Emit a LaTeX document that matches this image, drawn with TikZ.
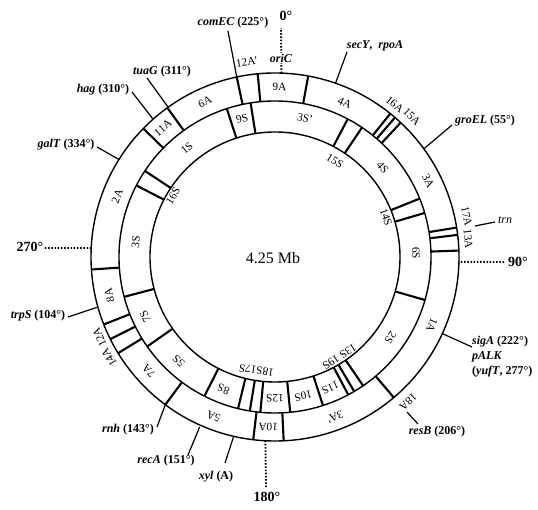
\documentclass[tikz,border=0pt]{standalone}
\usepackage{fontspec}
\setmainfont{Liberation Serif}
\newcommand\rlab[4]{\node[rl, rotate={-(#2)}] (#1) at ({#2-90}:#3) {#4};}
\begin{document}
\begin{tikzpicture}[x=1pt,y=-1pt,
  ring/.style={line width=1.4pt},
  divl/.style={line width=2.1pt},
  ptr/.style={line width=1.2pt},
  tick/.style={line width=1.9pt, dash pattern=on 1.5pt off 1.7pt},
  rl/.style={font=\fontsize{11.3}{12}\selectfont, inner sep=0pt},
  gl/.style={font=\fontsize{12}{13}\selectfont\bfseries, inner sep=0pt},
  dl/.style={font=\fontsize{14}{15}\selectfont\bfseries, inner sep=0pt}]
\useasboundingbox (0,0) rectangle (538,510);
\begin{scope}[shift={(275,257)}]
  \draw[ring] (0,0) circle[radius=184pt];
  \draw[ring] (0,0) circle[radius=156pt];
  \draw[ring] (0,0) circle[radius=125pt];
  % outer ring dividers
  \foreach \c in {348,354.6,10.4,38.8,40.7,43.1,80.8,83.1,88,139.8,177.3,186.8,216.6,238.5,243.5,248.5,266.1,314.3,324.2}
    \draw[divl] ({\c-90}:156) -- ({\c-90}:184);
  % inner ring dividers
  \foreach \c in {342,351,27.8,33.9,68,73.6,106,145.6,149.5,152,162.1,174.4,185.4,189.3,193.7,206.9,235,255.2,297.3,303.5}
    \draw[divl] ({\c-90}:125) -- ({\c-90}:156);
  % outer ring labels
  \rlab{a9}{1.5}{170}{9A}
  \rlab{a12p}{351.8}{197}{12A'}
  \rlab{a4}{24.4}{169}{4A}
  \rlab{a16}{38.1}{194}{16A}
  \rlab{a15}{44.3}{196}{15A}
  \rlab{a3}{63.6}{171}{3A}
  \rlab{a17}{78}{196}{17A}
  \rlab{a13}{84.7}{194}{13A}
  \rlab{a1}{113.4}{171}{1A}
  \rlab{a18}{137.5}{197}{18A}
  \rlab{a3p}{159.4}{171}{3A'}
  \rlab{a10}{182.3}{170}{10A}
  \rlab{a5}{201}{171}{5A}
  \rlab{a7}{228}{170}{7A}
  \rlab{a14}{238.8}{194}{14A}
  \rlab{a12}{245.4}{193}{12A}
  \rlab{a8}{257}{170}{8A}
  \rlab{a2}{291}{169}{2A}
  \rlab{a11}{319}{171}{11A}
  \rlab{a6}{335.7}{170}{6A}
  % inner ring labels
  \rlab{s9}{346.6}{142}{9S}
  \rlab{s3p}{12.2}{142}{3S'}
  \rlab{s15}{32}{113}{15S}
  \rlab{s4}{50.2}{140}{4S}
  \rlab{s14}{70.3}{118}{14S}
  \rlab{s6}{88.4}{141}{6S}
  \rlab{s2}{125}{141}{2S}
  \rlab{s1319}{147.2}{119}{13S 19S}
  \rlab{s11}{157}{142}{11S}
  \rlab{s10}{168.5}{142}{10S}
  \rlab{s12}{180}{141}{12S}
  \rlab{s1817}{189.3}{115}{18S17S}
  \rlab{s8}{201.3}{142}{8S}
  \rlab{s5}{222.7}{142}{5S}
  \rlab{s7}{245.2}{143}{7S}
  \rlab{s3}{276.2}{140}{3S}
  \rlab{s16}{301}{119}{16S}
  \rlab{s1}{321}{140}{1S}
  % pointer start points on the outer circle
  \coordinate (pcomEC) at (258:184);
  \coordinate (psecY) at (-70.8:184);
  \coordinate (pgroEL) at (-36:184);
  \coordinate (psigA) at (24.6:184);
  \coordinate (pxyl) at (103:185);
  \coordinate (precA) at (113.9:186);
  \coordinate (prnh) at (126.6:184);
  \coordinate (ptrpS) at (164.2:185);
  \coordinate (pgalT) at (212:184);
  \coordinate (phag) at (228.5:184);
  \coordinate (ptuaG) at (234.5:184);
  \coordinate (t0) at (-88:184);
  \coordinate (t90) at (1.5:186);
  \coordinate (t180) at (93:184);
  \coordinate (t270) at (182.8:184);
  \node[font=\fontsize{16}{17}\selectfont, inner sep=0pt] (genome) at (-2,1) {4.25 Mb};
\end{scope}
% pointer end points
\coordinate (ecomEC) at (228,31);
\coordinate (esecY) at (347,52);
\coordinate (egroEL) at (452,125);
\coordinate (trnA) at (475,226);
\coordinate (trnB) at (495,222);
\coordinate (esigA) at (472,347);
\coordinate (resA) at (407,412);
\coordinate (resZ) at (418,424);
\coordinate (exyl) at (225,463);
\coordinate (erecA) at (188,455);
\coordinate (ernh) at (157,427);
\coordinate (etrpS) at (68,317);
\coordinate (egalT) at (97,147);
\coordinate (ehag) at (132,92);
\coordinate (etuaG) at (147,78);
\coordinate (e0) at (281,28);
\coordinate (e90) at (505,262);
\coordinate (e180) at (266,487);
\coordinate (e270) at (43,248);
% ticks
\draw[tick] (t0) -- (e0);
\draw[tick] (t90) -- (e90);
\draw[tick] (t180) -- (e180);
\draw[tick] (t270) -- (e270);
% pointers
\draw[ptr] (pcomEC) -- (ecomEC);
\draw[ptr] (psecY) -- (esecY);
\draw[ptr] (pgroEL) -- (egroEL);
\draw[ptr] (trnA) -- (trnB);
\draw[ptr] (psigA) -- (esigA);
\draw[ptr] (resA) -- (resZ);
\draw[ptr] (pxyl) -- (exyl);
\draw[ptr] (precA) -- (erecA);
\draw[ptr] (prnh) -- (ernh);
\draw[ptr] (ptrpS) -- (etrpS);
\draw[ptr] (pgalT) -- (egalT);
\draw[ptr] (phag) -- (ehag);
\draw[ptr] (ptuaG) -- (etuaG);
% degree labels
\node[dl] (d0) at (286,16) {0°};
\node[dl] (d90) at (518,262) {90°};
\node[dl] (d180) at (267,497) {180°};
\node[dl] (d270) at (30,247) {270°};
% gene labels
\node[gl] (comEC) at (233,23) {\textit{comEC} (225°)};
\node[gl, fill=white, inner sep=1pt] (oriC) at (281,58) {\textit{oriC}};
\node[gl] (secY) at (375,46) {\textit{secY},\ \ \textit{rpoA}};
\node[gl] (groEL) at (485,121) {\textit{groEL} (55°)};
\node[gl, font=\fontsize{12}{13}\selectfont\itshape] (trn) at (505,220) {trn};
\node[gl, anchor=west] (sigA) at (472,342) {\textit{sigA} (222°)};
\node[gl, anchor=west] (pALK) at (472,357) {\textit{pALK}};
\node[gl, anchor=west] (yufT) at (472,372) {(\textit{yufT}, 277°)};
\node[gl] (resB) at (437,432) {\textit{resB} (206°)};
\node[gl] (xyl) at (216,477) {\textit{xyl} (A)};
\node[gl] (recA) at (166,461) {\textit{recA} (151°)};
\node[gl] (rnh) at (128,430) {\textit{rnh} (143°)};
\node[gl] (trpS) at (38,316) {\textit{trpS} (104°)};
\node[gl] (galT) at (66,145) {\textit{galT} (334°)};
\node[gl] (hag) at (103,90) {\textit{hag} (310°)};
\node[gl] (tuaG) at (162,72) {\textit{tuaG} (311°)};
\end{tikzpicture}
\end{document}
